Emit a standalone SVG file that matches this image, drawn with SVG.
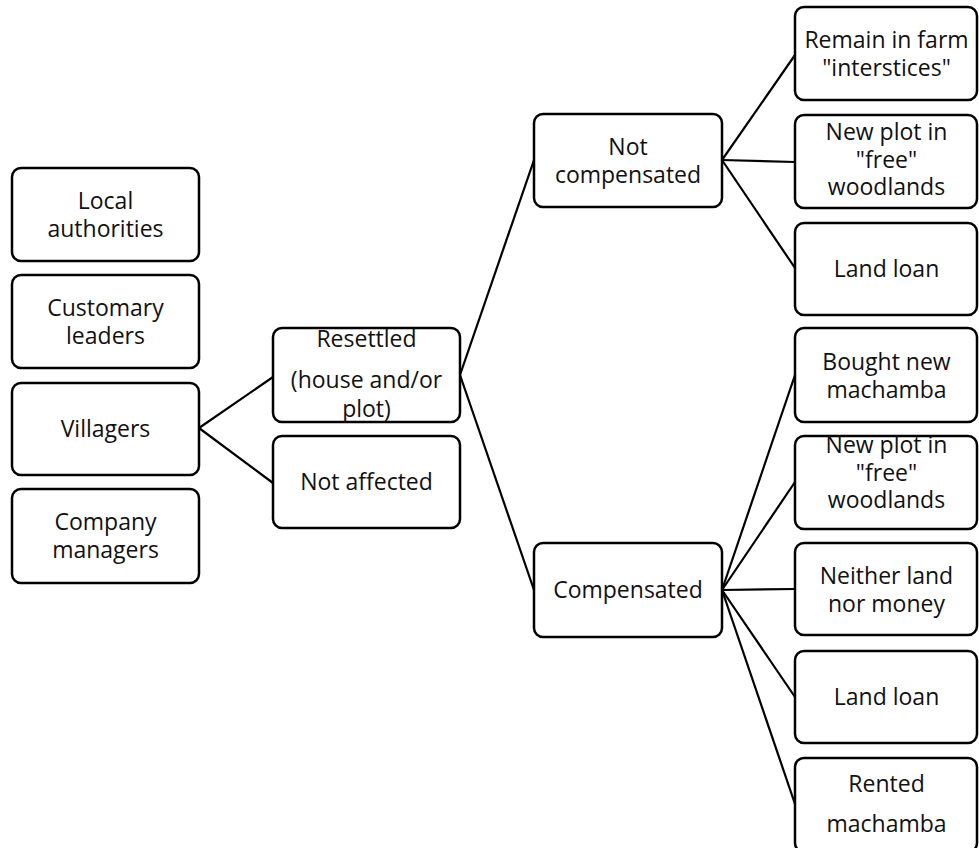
<svg xmlns="http://www.w3.org/2000/svg" width="979" height="848" viewBox="0 0 979 848">
<style>
.box{fill:#fff;stroke:#000;stroke-width:2.5}
.lbl{font-family:"Open Sans","Noto Sans",sans-serif;font-size:23px;fill:#111;text-anchor:middle}
.con line{stroke:#000;stroke-width:2.2;fill:none}
</style>
<rect width="979" height="848" fill="#fff"/>
<g class="con" id="connectors">
<line x1="199" y1="428" x2="273" y2="377"/>
<line x1="199" y1="428" x2="273" y2="483"/>
<line x1="460" y1="375" x2="534" y2="160"/>
<line x1="460" y1="375" x2="534" y2="590"/>
<line x1="722" y1="160" x2="795" y2="55"/>
<line x1="722" y1="160" x2="795" y2="162"/>
<line x1="722" y1="160" x2="795" y2="268"/>
<line x1="722" y1="590" x2="795" y2="375"/>
<line x1="722" y1="590" x2="795" y2="482"/>
<line x1="722" y1="590" x2="795" y2="589"/>
<line x1="722" y1="590" x2="795" y2="697"/>
<line x1="722" y1="590" x2="795" y2="804"/>
</g>
<g id="local-authorities"><rect class="box" x="12" y="168" width="187" height="93" rx="9"/><text class="lbl" x="105.5" y="209">Local</text><text class="lbl" x="105.5" y="237">authorities</text></g>
<g id="customary-leaders"><rect class="box" x="12" y="275" width="187" height="93" rx="9"/><text class="lbl" x="105.5" y="316">Customary</text><text class="lbl" x="105.5" y="344">leaders</text></g>
<g id="villagers"><rect class="box" x="12" y="383" width="187" height="92" rx="9"/><text class="lbl" x="105.5" y="437">Villagers</text></g>
<g id="company-managers"><rect class="box" x="12" y="489" width="187" height="94" rx="9"/><text class="lbl" x="105.5" y="530">Company</text><text class="lbl" x="105.5" y="558">managers</text></g>
<g id="resettled"><rect class="box" x="273" y="328" width="187" height="94" rx="9"/><text class="lbl" x="366.5" y="347">Resettled</text><text class="lbl" x="366.5" y="388">(house and/or</text><text class="lbl" x="366.5" y="417">plot)</text></g>
<g id="not-affected"><rect class="box" x="273" y="436" width="187" height="92" rx="9"/><text class="lbl" x="366.5" y="490">Not affected</text></g>
<g id="not-compensated"><rect class="box" x="534" y="114" width="188" height="93" rx="9"/><text class="lbl" x="628" y="155">Not</text><text class="lbl" x="628" y="183">compensated</text></g>
<g id="compensated"><rect class="box" x="534" y="543" width="188" height="94" rx="9"/><text class="lbl" x="628" y="598">Compensated</text></g>
<g id="remain-farm"><rect class="box" x="795" y="7" width="182" height="93" rx="9"/><text class="lbl" x="886.5" y="48">Remain in farm</text><text class="lbl" x="886.5" y="76">"interstices"</text></g>
<g id="new-plot-1"><rect class="box" x="795" y="115" width="182" height="93" rx="9"/><text class="lbl" x="886.5" y="140">New plot in</text><text class="lbl" x="886.5" y="167.5">"free"</text><text class="lbl" x="886.5" y="195">woodlands</text></g>
<g id="land-loan-1"><rect class="box" x="795" y="223" width="182" height="92" rx="9"/><text class="lbl" x="886.5" y="277">Land loan</text></g>
<g id="bought-machamba"><rect class="box" x="795" y="328" width="182" height="94" rx="9"/><text class="lbl" x="886.5" y="370">Bought new</text><text class="lbl" x="886.5" y="398">machamba</text></g>
<g id="new-plot-2"><rect class="box" x="795" y="436" width="182" height="93" rx="9"/><text class="lbl" x="886.5" y="453">New plot in</text><text class="lbl" x="886.5" y="480.5">"free"</text><text class="lbl" x="886.5" y="508">woodlands</text></g>
<g id="neither"><rect class="box" x="795" y="543" width="182" height="92" rx="9"/><text class="lbl" x="886.5" y="583.5">Neither land</text><text class="lbl" x="886.5" y="611.5">nor money</text></g>
<g id="land-loan-2"><rect class="box" x="795" y="651" width="182" height="92" rx="9"/><text class="lbl" x="886.5" y="705">Land loan</text></g>
<g id="rented-machamba"><rect class="box" x="795" y="758" width="182" height="94" rx="9"/><text class="lbl" x="886.5" y="792">Rented</text><text class="lbl" x="886.5" y="832">machamba</text></g>
</svg>
